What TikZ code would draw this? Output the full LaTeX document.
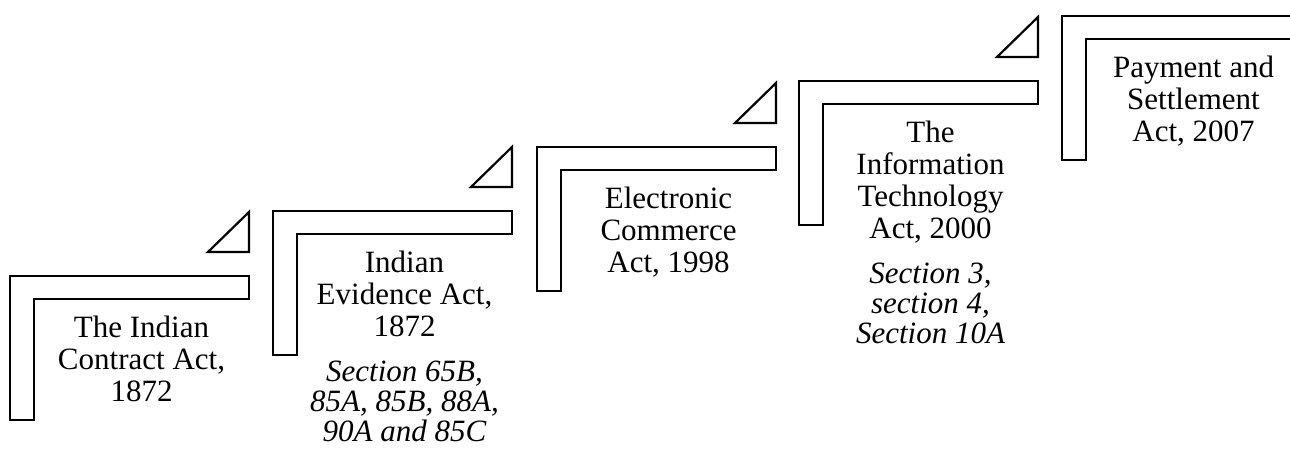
\documentclass[tikz,border=0pt]{standalone}
\usepackage{fontspec}
\setmainfont{Liberation Serif}
\begin{document}
\begin{tikzpicture}[x=1pt,y=-1pt,line width=2.2pt,line join=miter,
  lbl/.style={anchor=north,inner sep=0pt,align=center,
    font=\fontsize{31}{32}\selectfont},
  note/.style={anchor=north,inner sep=0pt,align=center,
    font=\fontsize{31}{30}\selectfont\itshape},
  stairstep/.pic={
    \draw (0,0) -- (239,0) -- (239,23) -- (24,23) -- (24,144) -- (0,144) -- cycle;
    \draw (198,-24) -- (239,-24) -- (239,-64) -- cycle;
  }]
\clip (0,0) rectangle (1290,450);
\fill[white] (0,0) rectangle (1290,450);
\pic at (10,276) {stairstep};
\pic at (273,211) {stairstep};
\pic at (537,147) {stairstep};
\pic at (799,81) {stairstep};
\pic at (1062,16) {stairstep};
\node[lbl] (t1) at (141.5,315) {The Indian\\Contract Act,\\1872};
\node[lbl] (t2) at (404.5,250) {Indian\\Evidence Act,\\1872};
\node[note] (n2) at (404.5,359.5) {Section 65B,\\85A, 85B, 88A,\\90A and 85C};
\node[lbl] (t3) at (668.5,186) {Electronic\\Commerce\\Act, 1998};
\node[lbl] (t4) at (930.5,120) {The\\Information\\Technology\\Act, 2000};
\node[note] (n4) at (930.5,261.5) {Section 3,\\section 4,\\Section 10A};
\node[lbl] (t5) at (1193.5,55) {Payment and\\Settlement\\Act, 2007};
\end{tikzpicture}
\end{document}
